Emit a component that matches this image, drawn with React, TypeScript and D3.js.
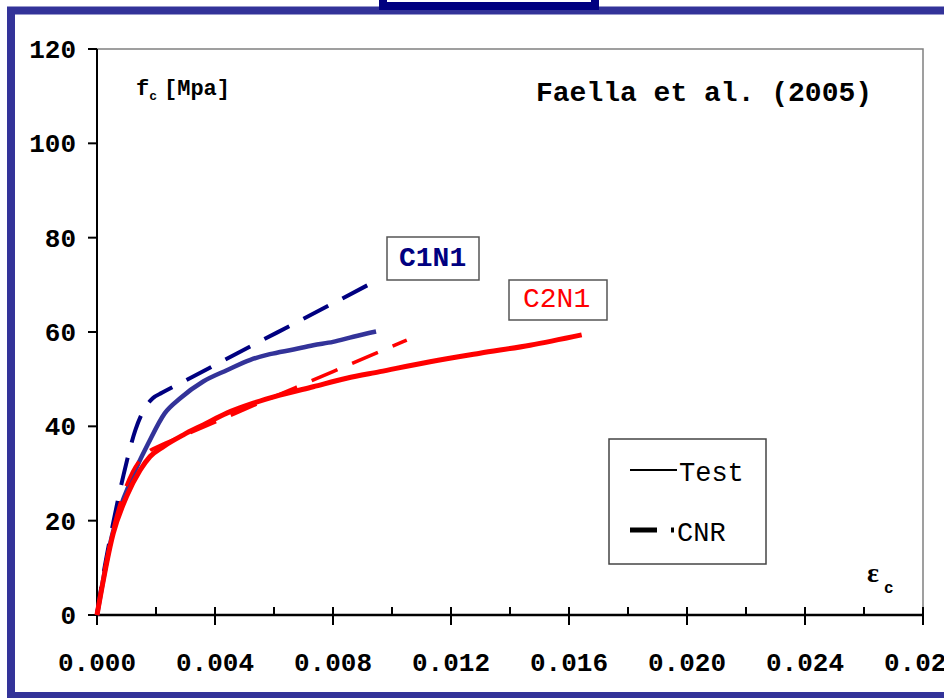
import * as d3 from "d3";
import { useEffect, useRef } from "react";

// strain [-] / stress [MPa]
const c1n1TestStrain = [0, 0.0005, 0.00123, 0.00174, 0.0023, 0.00281, 0.0036, 0.0044, 0.0052, 0.00586, 0.00666, 0.00733, 0.008, 0.00869, 0.00946];
const c1n1TestStress = [0, 16.6, 29.7, 36.4, 42.8, 45.9, 49.5, 51.9, 54.1, 55.3, 56.3, 57.2, 57.9, 59.0, 60.1];

const c1n1CnrStrain = [0, 0.0002, 0.0005, 0.0009, 0.0013, 0.0016, 0.0019, 0.0022, 0.003, 0.005, 0.007, 0.0095];
const c1n1CnrStress = [0, 8, 18, 29.7, 39.2, 43.6, 46.0, 47.1, 49.7, 56.3, 62.8, 71];

const c2n1TestStrain = [0, 0.00055, 0.001, 0.00146, 0.0018, 0.00225, 0.00293, 0.0036, 0.0044, 0.0053, 0.0062, 0.00733, 0.00846, 0.00959, 0.01129, 0.01298, 0.01468, 0.01643];
const c2n1TestStress = [0, 17.3, 25.1, 30.7, 33.6, 35.7, 38.2, 40.3, 42.8, 44.9, 46.6, 48.4, 50.2, 51.6, 53.7, 55.5, 57.2, 59.4];

const c2n1CnrStrain = [0, 0.0003, 0.0006, 0.0009, 0.0012, 0.0015, 0.0018, 0.0021, 0.003, 0.005, 0.008, 0.0105];
const c2n1CnrStress = [0, 11, 19.5, 25.8, 30.3, 33.2, 34.9, 35.8, 38.2, 43.6, 51.6, 58.3];

const xTicks = [0, 0.004, 0.008, 0.012, 0.016, 0.02, 0.024, 0.028];
const xMinorTicks = [0.002, 0.006, 0.01, 0.014, 0.018, 0.022, 0.026];
const yTicks = [0, 20, 40, 60, 80, 100, 120];

const MONO = "'Liberation Mono', 'Courier New', monospace";

export default function App() {
    const svgRef = useRef(null);

    useEffect(() => {
        const svg = d3.select(svgRef.current);
        svg.selectAll("*").remove();
        svg.attr("width", 944).attr("height", 698).style("background", "#FFF");

        const x = d3.scaleLinear().domain([0, 0.028]).range([97, 923]);
        const y = d3.scaleLinear().domain([0, 120]).range([615, 49]);

        // outer blue frame + box at top
        svg.append("rect")
            .attr("x", 11).attr("y", 10.5).attr("width", 960).attr("height", 685.5)
            .attr("fill", "none").attr("stroke", "#333399").attr("stroke-width", 8);
        svg.append("rect")
            .attr("x", 383).attr("y", -20).attr("width", 212).attr("height", 26)
            .attr("fill", "#FFF").attr("stroke", "#000080").attr("stroke-width", 8);

        // plot area border (top / right)
        svg.append("path")
            .attr("d", `M${x(0)},${y(120)}H${x(0.028)}V${y(0)}`)
            .attr("fill", "none").attr("stroke", "#808080").attr("stroke-width", 1.5);

        // y axis
        svg.append("line")
            .attr("x1", x(0)).attr("x2", x(0)).attr("y1", y(120)).attr("y2", y(0))
            .attr("stroke", "#000").attr("stroke-width", 2);
        svg.selectAll(".ytick").data(yTicks).join("line")
            .attr("x1", x(0) - 9).attr("x2", x(0)).attr("y1", (d) => y(d)).attr("y2", (d) => y(d))
            .attr("stroke", "#000").attr("stroke-width", 2);
        svg.selectAll(".ylab").data(yTicks).join("text")
            .attr("x", 76).attr("y", (d) => y(d))
            .attr("dy", "0.35em")
            .attr("text-anchor", "end")
            .style("font-family", MONO).style("font-weight", "bold").style("font-size", "26px")
            .text((d) => d);

        // x axis
        svg.append("line")
            .attr("x1", x(0)).attr("x2", x(0.028)).attr("y1", y(0)).attr("y2", y(0))
            .attr("stroke", "#000").attr("stroke-width", 2.5);
        svg.selectAll(".xtick").data(xTicks).join("line")
            .attr("x1", (d) => x(d)).attr("x2", (d) => x(d)).attr("y1", y(0) - 8).attr("y2", y(0) + 10)
            .attr("stroke", "#000").attr("stroke-width", 2);
        svg.selectAll(".xminor").data(xMinorTicks).join("line")
            .attr("x1", (d) => x(d)).attr("x2", (d) => x(d)).attr("y1", y(0) - 8).attr("y2", y(0))
            .attr("stroke", "#000").attr("stroke-width", 2);
        svg.selectAll(".xlab").data(xTicks).join("text")
            .attr("x", (d) => x(d)).attr("y", 671)
            .attr("text-anchor", "middle")
            .style("font-family", MONO).style("font-weight", "bold").style("font-size", "26px")
            .text((d) => d3.format(".3f")(d));

        // curves
        const line = d3.line().x((d) => x(d[0])).y((d) => y(d[1])).curve(d3.curveMonotoneX);
        const series = [
            { sx: c1n1TestStrain, sy: c1n1TestStress, color: "#333399", width: 4.5, dash: null },
            { sx: c1n1CnrStrain, sy: c1n1CnrStress, color: "#000080", width: 4, dash: "28,16" },
            { sx: c2n1CnrStrain, sy: c2n1CnrStress, color: "#FF0000", width: 3.5, dash: "28,16" },
            { sx: c2n1TestStrain, sy: c2n1TestStress, color: "#FF0000", width: 5, dash: null },
        ];
        svg.selectAll(".curve").data(series).join("path")
            .attr("d", (s) => line(s.sx.map((v, i) => [v, s.sy[i]])))
            .attr("fill", "none")
            .attr("stroke", (s) => s.color)
            .attr("stroke-width", (s) => s.width)
            .attr("stroke-dasharray", (s) => s.dash)
            .attr("stroke-linejoin", "round");

        // axis titles
        const fl = svg.append("text").attr("x", 136).attr("y", 95)
            .style("font-family", MONO).style("font-weight", "bold").style("font-size", "22px");
        fl.append("tspan").text("f");
        fl.append("tspan").attr("dy", 5).style("font-size", "13px").text("c");
        fl.append("tspan").attr("x", 164).attr("dy", -5).text("[Mpa]");

        svg.append("text").attr("x", 536).attr("y", 101)
            .style("font-family", MONO).style("font-weight", "bold").style("font-size", "28px")
            .text("Faella et al. (2005)");

        const eps = svg.append("text").attr("x", 867).attr("y", 582)
            .style("font-family", "'Liberation Serif', serif").style("font-weight", "bold").style("font-size", "28px");
        eps.append("tspan").text("ε");
        eps.append("tspan").attr("x", 884).attr("y", 593)
            .style("font-family", MONO).style("font-size", "16px").text("c");

        // series labels
        svg.append("rect").attr("x", 387).attr("y", 237).attr("width", 92).attr("height", 43)
            .attr("fill", "#FFF").attr("stroke", "#555").attr("stroke-width", 1.5);
        svg.append("text").attr("x", 399).attr("y", 266)
            .attr("fill", "#000080")
            .style("font-family", MONO).style("font-weight", "bold").style("font-size", "28px")
            .text("C1N1");
        svg.append("rect").attr("x", 509).attr("y", 280).attr("width", 98).attr("height", 40)
            .attr("fill", "#FFF").attr("stroke", "#555").attr("stroke-width", 1.5);
        svg.append("text").attr("x", 523).attr("y", 307)
            .attr("fill", "#FF0000")
            .style("font-family", MONO).style("font-size", "28px")
            .text("C2N1");

        // legend
        svg.append("rect").attr("x", 609).attr("y", 439).attr("width", 157).attr("height", 125)
            .attr("fill", "#FFF").attr("stroke", "#444").attr("stroke-width", 1.5);
        svg.append("line").attr("x1", 630).attr("x2", 677).attr("y1", 470).attr("y2", 470)
            .attr("stroke", "#000").attr("stroke-width", 2);
        svg.append("line").attr("x1", 630).attr("x2", 674).attr("y1", 530).attr("y2", 530)
            .attr("stroke", "#000").attr("stroke-width", 5).attr("stroke-dasharray", "27,14");
        svg.append("text").attr("x", 679).attr("y", 481)
            .style("font-family", MONO).style("font-size", "27px").text("Test");
        svg.append("text").attr("x", 677).attr("y", 541)
            .style("font-family", MONO).style("font-size", "27px").text("CNR");
    }, []);

    return (
        <div style={{ position: "absolute", left: 0, top: 0 }}>
            <svg ref={svgRef} style={{ display: "block" }} />
        </div>
    );
}
